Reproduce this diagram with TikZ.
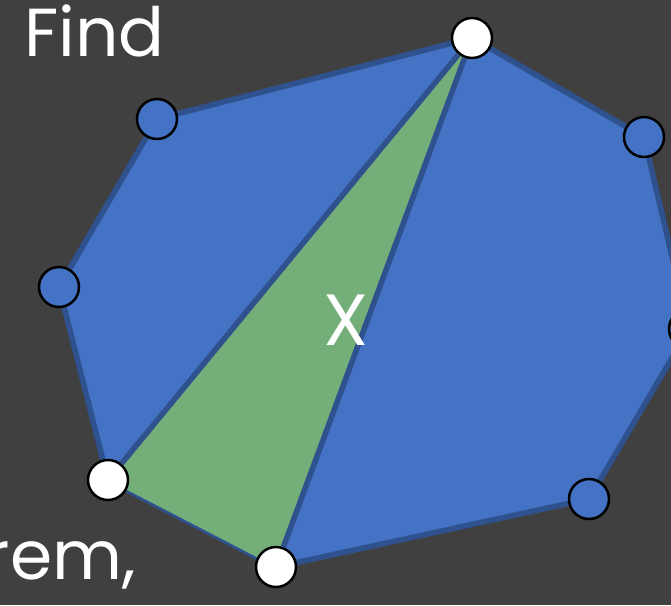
\documentclass[tikz,border=0pt]{standalone}
\usepackage{fontspec}
\setmainfont{Poppins}
\usetikzlibrary{positioning}

\definecolor{slide}{RGB}{64,64,64}
\definecolor{polyblue}{RGB}{68,114,196}
\definecolor{polyedge}{RGB}{47,82,143}
\definecolor{ears}{RGB}{116,174,120}

\begin{document}
\begin{tikzpicture}[
  x=0.03cm, y=-0.03cm,
  vtx/.style  ={draw=black, circle, line width=2.5*0.03cm, minimum size=40*0.03cm,
                inner sep=0pt, fill=polyblue},
  used/.style ={vtx, fill=white},
  edge/.style ={draw=polyedge, line width=5.5*0.03cm, line join=round},
  word/.style ={text=white, inner sep=0pt, font=\fontsize{58}{70}\selectfont},
]
\useasboundingbox (0,0) rectangle (671,605);
\clip (0,0) rectangle (671,605);
\fill[slide] (0,0) rectangle (671,605);

% polygon corners
\coordinate (pT)  at (472,38);
\coordinate (pUR) at (644,137);
\coordinate (pR)  at (689,329);
\coordinate (pBR) at (589,499);
\coordinate (pB)  at (276,567);
\coordinate (pBL) at (108,480);
\coordinate (pL)  at (59,287);
\coordinate (pUL) at (157,119);

\path[edge, fill=polyblue] (pT) -- (pUR) -- (pR) -- (pBR) -- (pB) -- (pBL) -- (pL) -- (pUL) -- cycle;
\fill[ears] (pT) -- (pB) -- (pBL) -- cycle;

% vertices
\node[used] (top)       at (pT)  {};
\node[vtx]  (upright)   at (pUR) {};
\node[vtx]  (right)     at (pR)  {};
\node[vtx]  (downright) at (pBR) {};
\node[used] (bottom)    at (pB)  {};
\node[used] (downleft)  at (pBL) {};
\node[vtx]  (left)      at (pL)  {};
\node[vtx]  (upleft)    at (pUL) {};

% diagonals of the ear
\path[edge] (top) -- (downleft);
\path[edge] (top) -- (bottom);

\node[word, anchor=base west] (find) at (24,56)  {Find};
\node[word, anchor=base east] (rem)  at (136,579) {rem,};
\node[word, font=\fontsize{62}{72}\selectfont] (ear) at (346,320) {X};
\end{tikzpicture}
\end{document}
